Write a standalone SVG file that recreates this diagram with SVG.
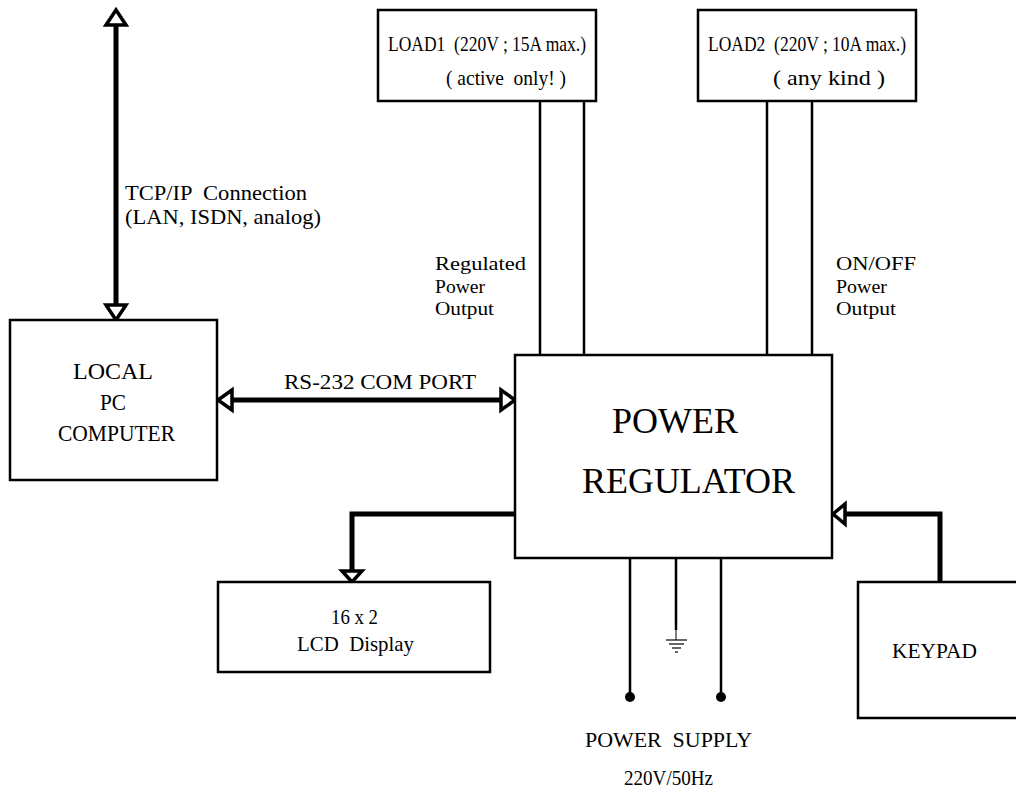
<svg xmlns="http://www.w3.org/2000/svg" width="1016" height="788" viewBox="0 0 1016 788">
<style>
.box{fill:#fff;stroke:#000;stroke-width:2.5}
.t{font-family:'Liberation Serif','Times New Roman',serif;font-size:21px;fill:#000}
.m{font-size:22px}
.l{font-size:23px}
.s{font-size:19px}
.big{font-family:'Liberation Serif','Times New Roman',serif;font-size:35px;fill:#000}
.thin{stroke:#000;stroke-width:2.5;fill:none}
.thick{stroke:#000;stroke-width:5;fill:none}
.ah{fill:#fff;stroke:#000;stroke-width:3.5;stroke-linejoin:miter}
</style>
<rect width="1016" height="788" fill="#fff"/>
<g id="connectors">
<line class="thick" x1="116" y1="20" x2="116" y2="312"/>
<polygon class="ah" points="116,10 106,25 126,25"/>
<polygon class="ah" points="116,320 106,305 126,305"/>
<line class="thick" x1="226" y1="400" x2="507" y2="400"/>
<polygon class="ah" points="218,400 232,390 232,410"/>
<polygon class="ah" points="515,400 501,390 501,410"/>
<polyline class="thick" points="515,514 352,514 352,575"/>
<polygon class="ah" points="352,582 342,571 362,571"/>
<polyline class="thick" points="940,582 940,514 840,514"/>
<polygon class="ah" points="833,514 845,504 845,524"/>
<line class="thin" x1="540" y1="101" x2="540" y2="355"/>
<line class="thin" x1="584" y1="101" x2="584" y2="355"/>
<line class="thin" x1="767" y1="101" x2="767" y2="355"/>
<line class="thin" x1="812" y1="101" x2="812" y2="355"/>
<line class="thin" x1="630" y1="558" x2="630" y2="697"/>
<circle cx="630" cy="697" r="5"/>
<line class="thin" x1="721" y1="558" x2="721" y2="697"/>
<circle cx="721" cy="697" r="5"/>
<line class="thin" x1="676" y1="558" x2="676" y2="630"/>
<line stroke="#000" stroke-width="1" x1="676" y1="630" x2="676" y2="640"/>
<line stroke="#000" stroke-width="1.2" x1="666" y1="640" x2="687" y2="640"/>
<line stroke="#000" stroke-width="1.2" x1="669" y1="644" x2="684" y2="644"/>
<line stroke="#000" stroke-width="1.2" x1="672" y1="648" x2="681" y2="648"/>
<line stroke="#000" stroke-width="1.2" x1="675" y1="652" x2="678" y2="652"/>
</g>
<g id="load1">
<rect class="box" x="378" y="10" width="218" height="91"/>
<text class="t" x="388" y="51" textLength="198" lengthAdjust="spacingAndGlyphs" xml:space="preserve">LOAD1  (220V ; 15A max.)</text>
<text class="t" x="446" y="85" textLength="120" lengthAdjust="spacingAndGlyphs" xml:space="preserve">( active  only! )</text>
</g>
<g id="load2">
<rect class="box" x="698" y="10" width="218" height="91"/>
<text class="t" x="708" y="51" textLength="198" lengthAdjust="spacingAndGlyphs" xml:space="preserve">LOAD2  (220V ; 10A max.)</text>
<text class="t" x="773" y="85" textLength="112" lengthAdjust="spacingAndGlyphs" xml:space="preserve">( any kind )</text>
</g>
<g id="tcp-label">
<text class="t m" x="125" y="200" textLength="182" lengthAdjust="spacingAndGlyphs" xml:space="preserve">TCP/IP  Connection</text>
<text class="t m" x="125" y="224" textLength="196" lengthAdjust="spacingAndGlyphs">(LAN, ISDN, analog)</text>
</g>
<g id="reg-label">
<text class="t s" x="435" y="270" textLength="91" lengthAdjust="spacingAndGlyphs">Regulated</text>
<text class="t s" x="435" y="293" textLength="50" lengthAdjust="spacingAndGlyphs">Power</text>
<text class="t s" x="435" y="315" textLength="59" lengthAdjust="spacingAndGlyphs">Output</text>
</g>
<g id="onoff-label">
<text class="t s" x="836" y="270" textLength="80" lengthAdjust="spacingAndGlyphs">ON/OFF</text>
<text class="t s" x="836" y="293" textLength="51" lengthAdjust="spacingAndGlyphs">Power</text>
<text class="t s" x="836" y="315" textLength="60" lengthAdjust="spacingAndGlyphs">Output</text>
</g>
<g id="local-pc">
<rect class="box" x="10" y="320" width="207" height="160"/>
<text class="t l" x="73" y="379" textLength="80" lengthAdjust="spacingAndGlyphs">LOCAL</text>
<text class="t l" x="100" y="410" textLength="26" lengthAdjust="spacingAndGlyphs">PC</text>
<text class="t l" x="58" y="441" textLength="117" lengthAdjust="spacingAndGlyphs">COMPUTER</text>
</g>
<text class="t" x="284" y="389" textLength="192" lengthAdjust="spacingAndGlyphs">RS-232 COM PORT</text>
<g id="power-regulator">
<rect class="box" x="515" y="355" width="317" height="203"/>
<text class="big" x="612" y="433" textLength="126" lengthAdjust="spacingAndGlyphs">POWER</text>
<text class="big" x="582" y="493" textLength="213" lengthAdjust="spacingAndGlyphs">REGULATOR</text>
</g>
<g id="lcd">
<rect class="box" x="218" y="582" width="272" height="90"/>
<text class="t m" x="331" y="624" textLength="47" lengthAdjust="spacingAndGlyphs">16 x 2</text>
<text class="t m" x="297" y="651" textLength="117" lengthAdjust="spacingAndGlyphs" xml:space="preserve">LCD  Display</text>
</g>
<g id="keypad">
<rect class="box" x="858" y="582" width="170" height="136"/>
<text class="t m" x="892" y="658" textLength="85" lengthAdjust="spacingAndGlyphs">KEYPAD</text>
</g>
<g id="power-supply">
<text class="t m" x="585" y="747" textLength="167" lengthAdjust="spacingAndGlyphs" xml:space="preserve">POWER  SUPPLY</text>
<text class="t m" x="624" y="785" textLength="89" lengthAdjust="spacingAndGlyphs">220V/50Hz</text>
</g>
</svg>
